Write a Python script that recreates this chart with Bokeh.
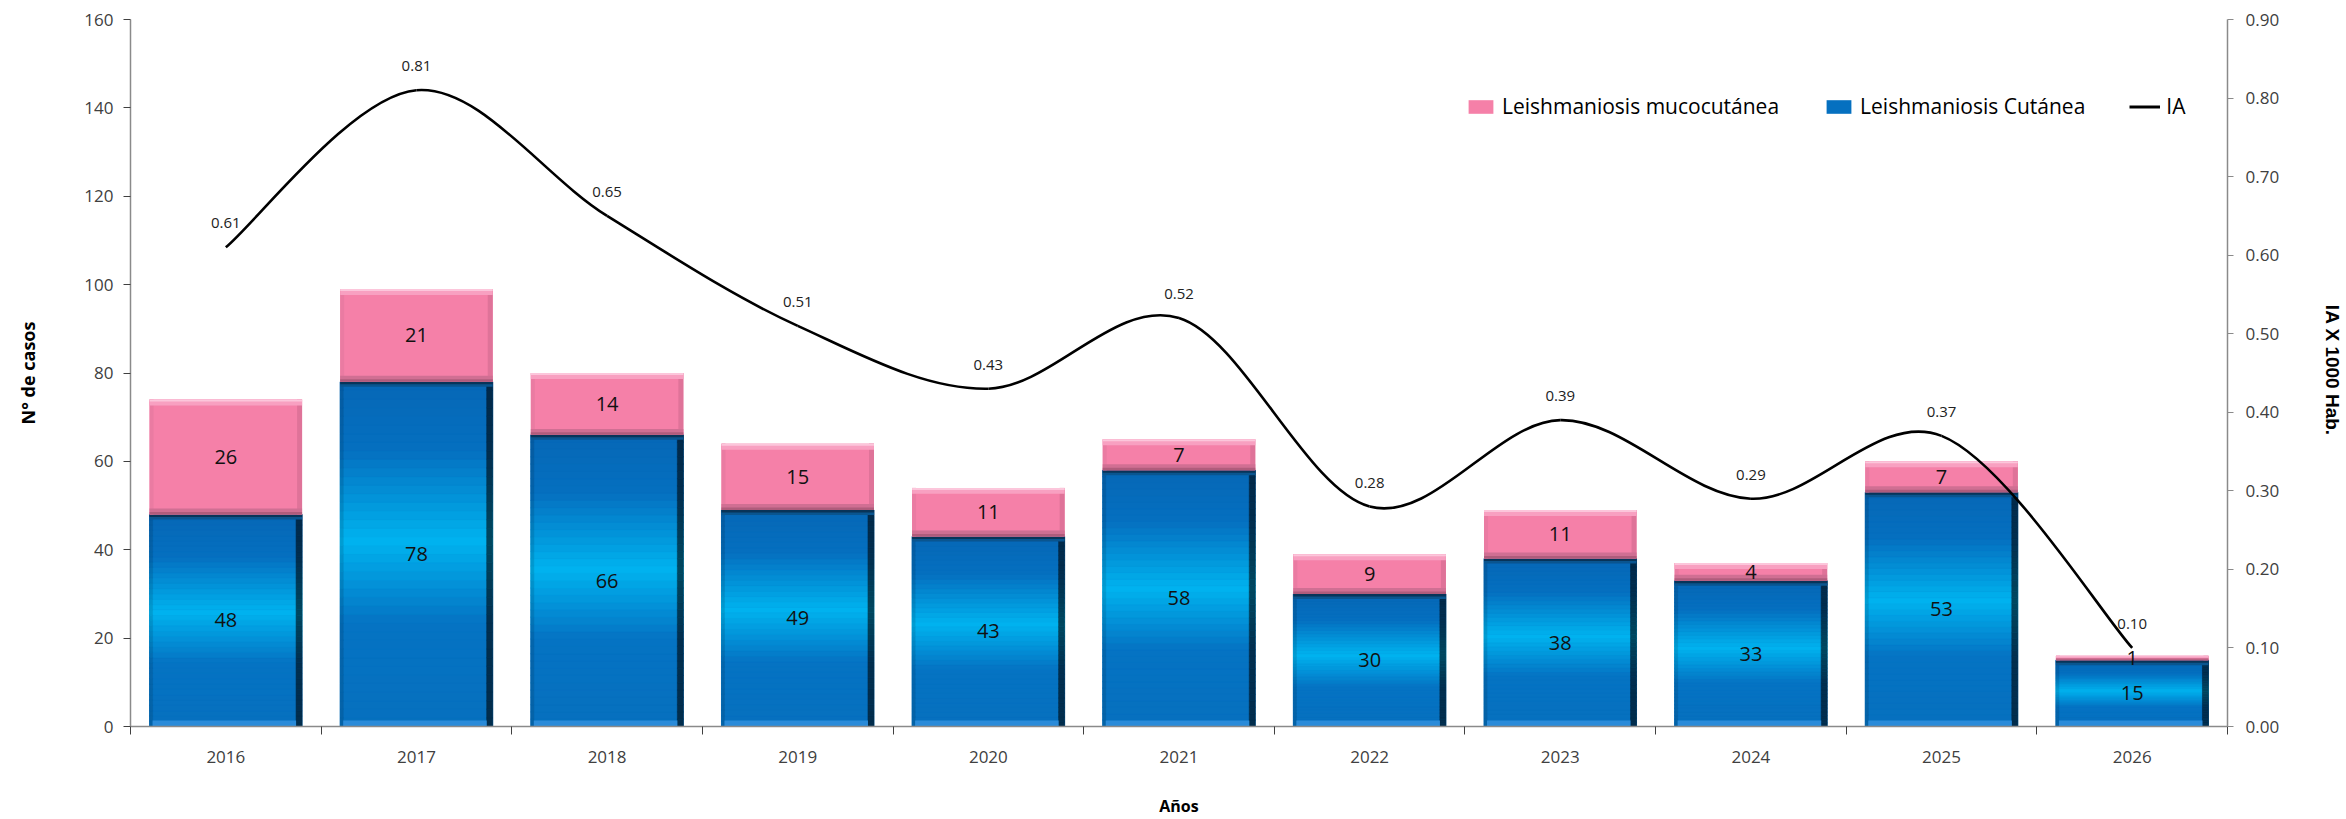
import numpy as np
from bokeh.plotting import figure
from bokeh.models import (Range1d, LinearAxis, FixedTicker, Legend, LegendItem,
                          ColumnDataSource, PrintfTickFormatter)
from bokeh.core.properties import value
from bokeh.embed import file_html
from bokeh.resources import INLINE

# ---------------- data ----------------
years = ["2016", "2017", "2018", "2019", "2020", "2021", "2022", "2023", "2024", "2025", "2026"]
cutanea = [48, 78, 66, 49, 43, 58, 30, 38, 33, 53, 15]
mucocutanea = [26, 21, 14, 15, 11, 7, 9, 11, 4, 7, 1]
ia = [0.61, 0.81, 0.65, 0.51, 0.43, 0.52, 0.28, 0.39, 0.29, 0.37, 0.10]

# ---------------- layout constants ----------------
W, H = 2346, 819
B_LEFT, B_RIGHT, B_TOP = 130, 117, 19
FRAME_H = 710
B_BOTTOM = H - B_TOP - FRAME_H
FRAME_W = W - B_LEFT - B_RIGHT
Y_MAX = 160
IA_MAX = 0.9
n = len(years)
PX_X = FRAME_W / n          # px per x unit
PX_Y = FRAME_H / Y_MAX      # px per y unit
BAR_W = 0.8

xc = np.arange(1, n + 1, dtype=float)
cut = np.array(cutanea, dtype=float)
muc = np.array(mucocutanea, dtype=float)
tot = cut + muc
left = xc - BAR_W / 2
right = xc + BAR_W / 2

p = figure(width=W, height=H, output_backend="svg", toolbar_location=None,
           x_range=Range1d(0.5, n + 0.5), y_range=Range1d(0, Y_MAX),
           min_border_left=B_LEFT, min_border_right=B_RIGHT,
           min_border_top=B_TOP, min_border_bottom=B_BOTTOM,
           x_axis_location=None, y_axis_location=None)
p.extra_y_ranges = {"ia": Range1d(0, IA_MAX)}
p.outline_line_color = None
p.xgrid.visible = False
p.ygrid.visible = False
p.background_fill_color = "white"
p.border_fill_color = "white"


def hex2rgb(h):
    h = h.lstrip("#")
    return np.array([int(h[i:i + 2], 16) for i in (0, 2, 4)], dtype=float)


def rgb2hex(c):
    c = np.clip(np.round(c), 0, 255).astype(int)
    return "#%02x%02x%02x" % tuple(c)


stops = [(0.0, "#0670be"), (0.30, "#0573c3"), (0.54, "#00b3ef"), (0.80, "#0570c0"), (1.0, "#0667b6")]


def grad(f):
    for (f0, c0), (f1, c1) in zip(stops[:-1], stops[1:]):
        if f0 <= f <= f1:
            t = (f - f0) / (f1 - f0)
            return hex2rgb(c0) * (1 - t) + hex2rgb(c1) * t
    return hex2rgb(stops[-1][1])


# ---------------- blue bars (gradient strips) ----------------
base_blue = p.quad(left=left, right=right, bottom=0, top=cut,
                   fill_color="#0570c0", line_color=None)

NS = 40
ex = 6 / PX_X
el = 3 / PX_X
sl, sr, sb, st, sc, scd, scl, srl, sll = [], [], [], [], [], [], [], [], []
for i in range(n):
    for k in range(NS):
        f = (k + 0.5) / NS
        c = grad(f)
        sl.append(left[i]); sr.append(right[i])
        srl.append(right[i] - ex); sll.append(left[i] + el)
        sb.append(cut[i] * k / NS); st.append(cut[i] * (k + 1) / NS)
        sc.append(rgb2hex(c))
        scd.append(rgb2hex(c * 0.40))
        scl.append(rgb2hex(c * 0.88))
strips = ColumnDataSource(dict(l=sl, r=sr, rl=srl, ll=sll, b=sb, t=st, c=sc, cd=scd, cl=scl))
p.quad(left="l", right="r", bottom="b", top="t", fill_color="c", line_color="c",
       line_width=0.6, source=strips)
# bevel: right dark edge, left slight edge
p.quad(left="rl", right="r", bottom="b", top="t", fill_color="cd",
       line_color="cd", line_width=0.6, source=strips)
p.quad(left="l", right="ll", bottom="b", top="t", fill_color="cl",
       line_color="cl", line_width=0.6, source=strips)
# bevel: bottom light band, top dark band
dy = 1 / PX_Y
p.quad(left=left + el, right=right - ex, bottom=0, top=6 * dy, fill_color="#2a8bd9", line_color=None)
p.quad(left=left, right=right, bottom=cut - 5 * dy, top=cut, fill_color="#0a558f", line_color=None)
p.quad(left=left, right=right, bottom=cut - 2.5 * dy, top=cut, fill_color="#083459", line_color=None)

# ---------------- pink bars ----------------
base_pink = p.quad(left=left, right=right, bottom=cut, top=tot,
                   fill_color="#f580a8", line_color=None)
ph = np.minimum(muc * PX_Y, 12) / 12.0  # scale bevel for very thin segments
p.quad(left=right - 5 / PX_X, right=right, bottom=cut, top=tot, fill_color="#df7399", line_color=None)
p.quad(left=left, right=left + 4 / PX_X, bottom=cut, top=tot, fill_color="#ea7ba2", line_color=None)
p.quad(left=left, right=right, bottom=cut, top=cut + 6 * dy * ph, fill_color="#d06f93", line_color=None)
p.quad(left=left, right=right, bottom=cut, top=cut + 2.5 * dy * ph, fill_color="#b05c7c", line_color=None)
p.quad(left=left, right=right, bottom=tot - 6 * dy * ph, top=tot, fill_color="#f8a0c1", line_color=None)
p.quad(left=left, right=right, bottom=tot - 2 * dy * ph, top=tot, fill_color="#fcc6db", line_color=None)

# ---------------- bar labels ----------------
lab = ColumnDataSource(dict(
    x=list(xc) + list(xc),
    y=list(cut / 2) + list(cut + muc / 2),
    t=[str(v) for v in cutanea] + [str(v) for v in mucocutanea]))
p.text(x="x", y="y", text="t", source=lab, text_align="center", text_baseline="middle",
       text_font=value("Open Sans"), text_font_size="20px", text_color="#111111")

# ---------------- IA smooth line (Catmull-Rom -> cubic bezier) ----------------
iy = np.array(ia, dtype=float)
x0, y0, x1, y1, cx0, cy0, cx1, cy1 = [], [], [], [], [], [], [], []
for i in range(n - 1):
    a = max(i - 1, 0); d = min(i + 2, n - 1)
    x0.append(xc[i]); y0.append(iy[i]); x1.append(xc[i + 1]); y1.append(iy[i + 1])
    cx0.append(xc[i] + (xc[i + 1] - xc[a]) / 6); cy0.append(iy[i] + (iy[i + 1] - iy[a]) / 6)
    cx1.append(xc[i + 1] - (xc[d] - xc[i]) / 6); cy1.append(iy[i + 1] - (iy[d] - iy[i]) / 6)
p.bezier(x0=x0, y0=y0, x1=x1, y1=y1, cx0=cx0, cy0=cy0, cx1=cx1, cy1=cy1,
         y_range_name="ia", line_color="black", line_width=2.6)
# single-point line: draws nothing on the plot, only supplies the legend swatch
ia_line_legend = p.line(x=[xc[0]], y=[ia[0]], line_color="black", line_width=3, y_range_name="ia")

p.text(x=list(xc), y=ia, text=["%.2f" % v for v in ia], y_range_name="ia",
       text_align="center", text_baseline="middle", y_offset=-24,
       text_font=value("Open Sans"), text_font_size="15px", text_color="#222222")

# ---------------- axes ----------------
AX_COL = "#8a8a8a"
TICK_COL = "#404040"

xaxis = LinearAxis(ticker=FixedTicker(ticks=list(xc), minor_ticks=list(np.arange(0.5, n + 1, 1.0))))
xaxis.major_label_overrides = {int(v): y for v, y in zip(xc, years)}
xaxis.major_tick_out = 0
xaxis.major_tick_in = 0
xaxis.minor_tick_out = 8
xaxis.minor_tick_in = 0
xaxis.minor_tick_line_color = "#404040"
xaxis.axis_line_color = AX_COL
xaxis.axis_line_width = 1.5
xaxis.major_label_standoff = 16
xaxis.major_label_text_font = "Open Sans"
xaxis.major_label_text_font_size = "17px"
xaxis.major_label_text_color = TICK_COL
xaxis.axis_label = "Años"
xaxis.axis_label_text_font = "Open Sans"
xaxis.axis_label_text_font_style = "bold"
xaxis.axis_label_text_font_size = "16px"
xaxis.axis_label_text_color = "black"
xaxis.axis_label_standoff = 29
p.add_layout(xaxis, "below")

yaxis = LinearAxis(ticker=FixedTicker(ticks=list(range(0, Y_MAX + 1, 20))))
yaxis.major_tick_out = 7
yaxis.major_tick_in = 0
yaxis.minor_tick_line_color = None
yaxis.major_tick_line_color = "#404040"
yaxis.axis_line_color = AX_COL
yaxis.axis_line_width = 1.5
yaxis.major_label_standoff = 10
yaxis.major_label_text_font = "Open Sans"
yaxis.major_label_text_font_size = "17px"
yaxis.major_label_text_color = TICK_COL
yaxis.axis_label = "N° de casos"
yaxis.axis_label_text_font = "Open Sans"
yaxis.axis_label_text_font_style = "bold"
yaxis.axis_label_text_font_size = "18px"
yaxis.axis_label_text_color = "black"
yaxis.axis_label_standoff = 41
p.add_layout(yaxis, "left")

yaxis2 = LinearAxis(y_range_name="ia",
                    ticker=FixedTicker(ticks=[round(0.1 * k, 2) for k in range(10)]),
                    formatter=PrintfTickFormatter(format="%.2f"))
yaxis2.major_tick_out = 6
yaxis2.major_tick_in = 0
yaxis2.minor_tick_line_color = None
yaxis2.major_tick_line_color = AX_COL
yaxis2.axis_line_color = AX_COL
yaxis2.axis_line_width = 1.5
yaxis2.major_label_standoff = 12
yaxis2.major_label_text_font = "Open Sans"
yaxis2.major_label_text_font_size = "17px"
yaxis2.major_label_text_color = TICK_COL
yaxis2.axis_label = "IA X 1000  Hab."
yaxis2.axis_label_text_font = "Liberation Sans"
yaxis2.axis_label_text_font_style = "bold"
yaxis2.axis_label_text_font_size = "19px"
yaxis2.axis_label_text_color = "black"
yaxis2.axis_label_standoff = 40
p.add_layout(yaxis2, "right")

# ---------------- legend ----------------
legend = Legend(items=[
    LegendItem(label="Leishmaniosis mucocutánea", renderers=[base_pink]),
    LegendItem(label="Leishmaniosis Cutánea", renderers=[base_blue]),
    LegendItem(label="IA", renderers=[ia_line_legend]),
], orientation="horizontal", location=(1335, 606))
legend.border_line_color = None
legend.background_fill_alpha = 0
legend.padding = 0
legend.margin = 0
legend.spacing = 44
legend.glyph_width = 31
legend.glyph_height = 17
legend.label_standoff = 6
legend.label_text_font = "Open Sans"
legend.label_text_font_size = "21px"
legend.label_text_color = "black"
p.add_layout(legend, "center")

open("out.html", "w").write(file_html(p, INLINE))
